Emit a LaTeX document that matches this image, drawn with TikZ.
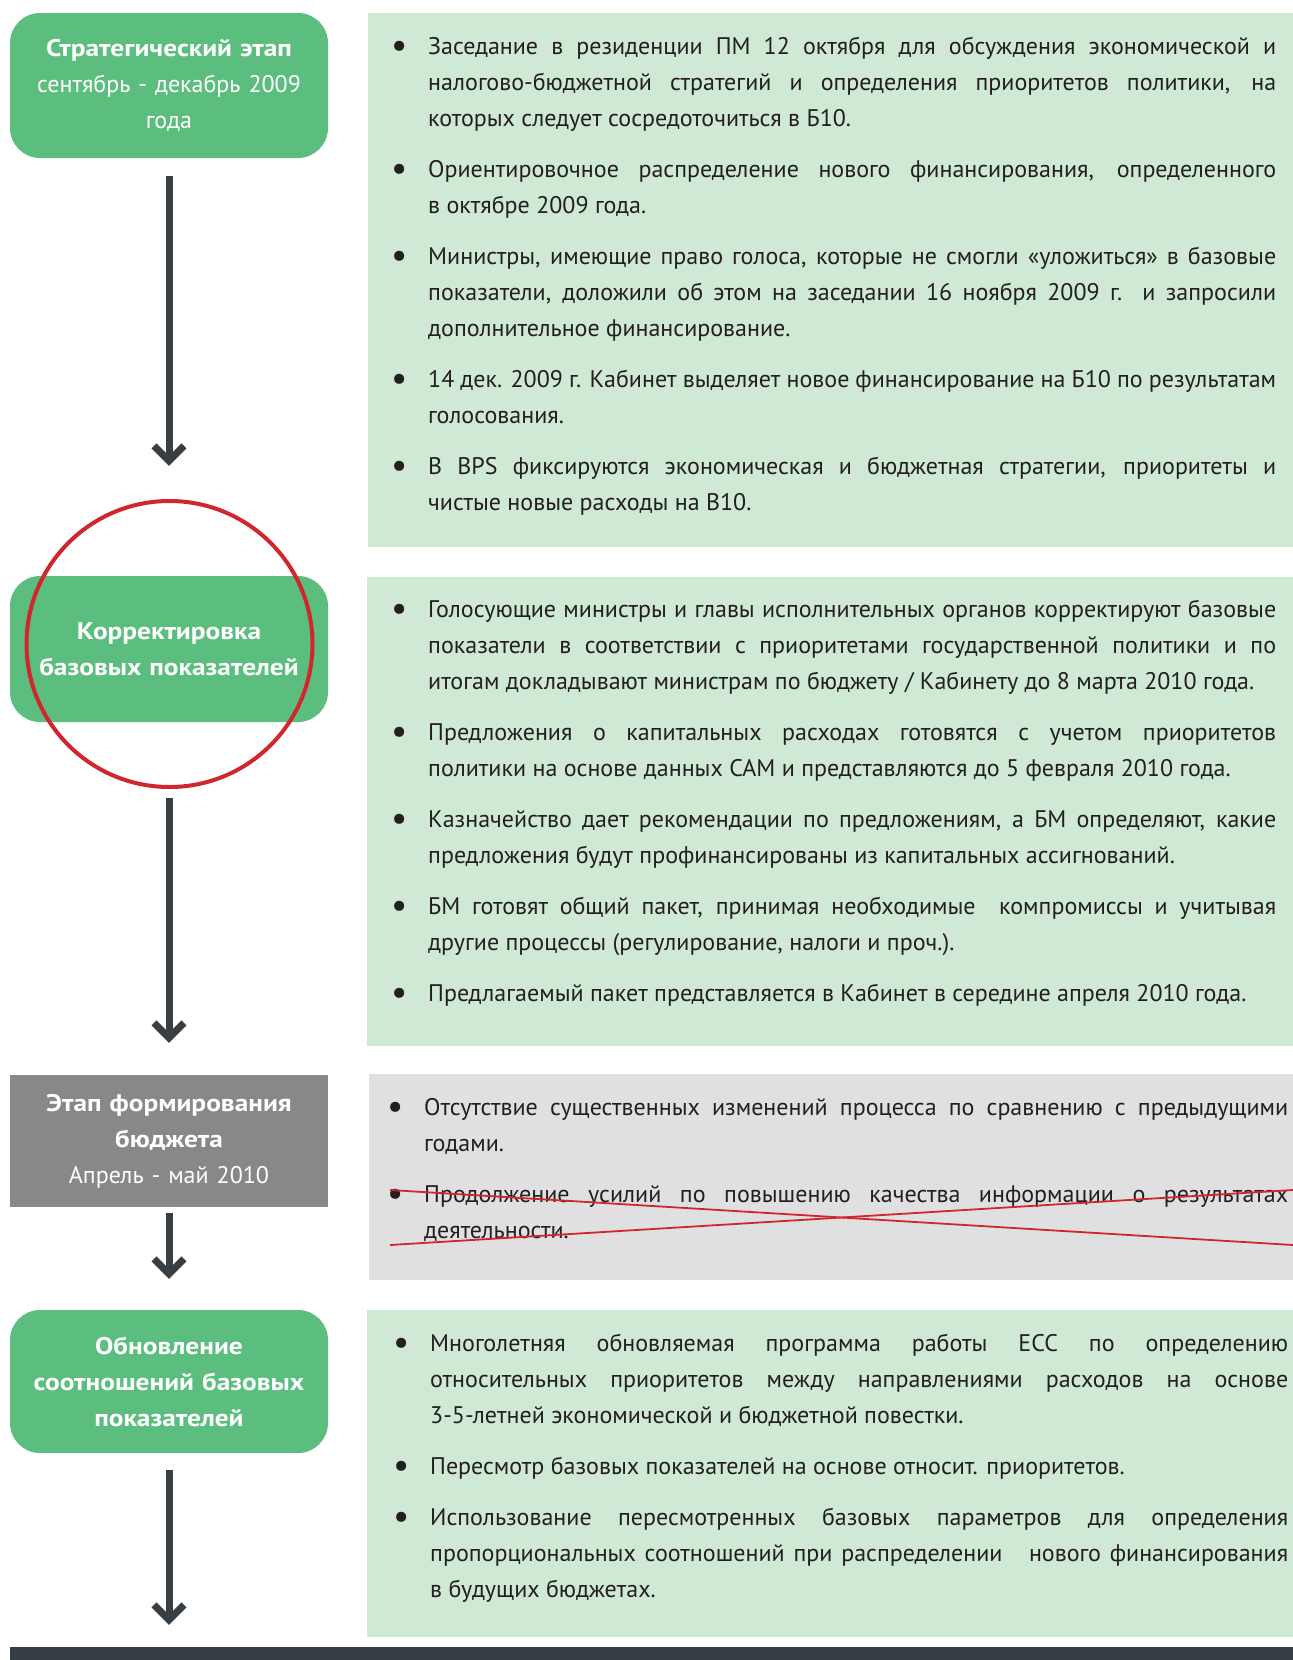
\documentclass[tikz,border=0pt]{standalone}
\usepackage{fontspec}
\setmainfont[BoldFeatures={FakeStretch=1.14}]{PT Sans}
\usetikzlibrary{arrows.meta, positioning}
\definecolor{gruen}{HTML}{5BBE7F}
\definecolor{hellgruen}{HTML}{D0E9D5}
\definecolor{grau}{HTML}{87888A}
\definecolor{hellgrau}{HTML}{E0E0E0}
\definecolor{dunkel}{HTML}{373F45}
\definecolor{rot}{HTML}{D1262D}
\definecolor{schrift}{HTML}{231F20}
\newcommand{\punkt}{\hangindent=37pt\hangafter=1%
  \hbox to 37pt{\raisebox{-3pt}{\scalebox{1.5}{\textbullet}}\hfil}\ignorespaces}
\newcommand{\absatz}{\par\vspace{15pt}\noindent}

\begin{document}
\begin{tikzpicture}[
    x=1pt, y=-1pt,
    every node/.style={inner sep=0pt},
    etappe/.style={fill=gruen, rounded corners=30pt, minimum width=318pt,
      text width=316pt, align=center, text=white,
      font=\fontsize{24}{36}\selectfont},
    liste/.style={anchor=base west, text=schrift, align=justify,
      font=\fontsize{24}{36}\selectfont},
    pfeil/.style={line width=7pt, dunkel, -{Straight Barb[length=15pt, width=30pt]}},
  ]
  \useasboundingbox (0,0) rectangle (1293,1660);

  % Felder rechts
  \fill[hellgruen] (368,13) rectangle (1293,547);
  \fill[hellgruen] (367,577) rectangle (1293,1046);
  \fill[hellgrau] (369,1074) rectangle (1293,1280);
  \fill[hellgruen] (367,1310) rectangle (1293,1637);

  % Etappen links
  \node[etappe, minimum height=145pt] (strat) at (169,85.5)
    {\textbf{Стратегический этап}\\сентябрь - декабрь 2009\\года};
  \node[etappe, minimum height=146pt] (korr) at (169,649)
    {\textbf{Корректировка}\\\textbf{базовых показателей}};
  \node[etappe, fill=grau, sharp corners, minimum height=132pt] (formir) at (169,1141)
    {\textbf{Этап формирования}\\\textbf{бюджета}\\Апрель - май 2010};
  \node[etappe, minimum height=143pt] (obnov) at (169,1381.5)
    {\textbf{Обновление}\\\textbf{соотношений базовых}\\\textbf{показателей}};
  \node[fill=dunkel, minimum width=1283pt, minimum height=13pt] (leiste) at (651.5,1653.5) {};

  % Pfeile
  \draw[pfeil, shorten <=18pt, shorten >=110pt] (strat) -- (korr);
  \draw[pfeil, shorten <=76pt, shorten >=32pt] (korr) -- (formir);
  \draw[pfeil, shorten <=6pt, shorten >=31pt] (formir) -- (obnov);
  \draw[pfeil, shorten <=17pt, shorten >=22pt] (obnov) -- (obnov |- leiste.north);

  % Texte
  \node[liste, text width=885pt] (text1) at (391,54) {%
    \punkt Заседание в резиденции ПМ 12 октября для обсуждения экономической и\linebreak
    налогово-бюджетной стратегий и определения приоритетов политики, на\linebreak
    которых следует сосредоточиться в Б10.
    \absatz\punkt Ориентировочное распределение нового финансирования, определенного\linebreak
    в октябре 2009 года.
    \absatz\punkt Министры, имеющие право голоса, которые не смогли «уложиться» в базовые\linebreak
    показатели, доложили об этом на заседании 16 ноября 2009 г. и запросили\linebreak
    дополнительное финансирование.
    \absatz\punkt 14 дек. 2009 г. Кабинет выделяет новое финансирование на Б10 по результатам\linebreak
    голосования.
    \absatz\punkt В BPS фиксируются экономическая и бюджетная стратегии, приоритеты и\linebreak
    чистые новые расходы на В10.\par};

  \node[liste, text width=885pt] (text2) at (391,617) {%
    \punkt Голосующие министры и главы исполнительных органов корректируют базовые\linebreak
    показатели в соответствии с приоритетами государственной политики и по\linebreak
    итогам докладывают министрам по бюджету / Кабинету до 8 марта 2010 года.
    \absatz\punkt Предложения о капитальных расходах готовятся с учетом приоритетов\linebreak
    политики на основе данных САМ и представляются до 5 февраля 2010 года.
    \absatz\punkt Казначейство дает рекомендации по предложениям, а БМ определяют, какие\linebreak
    предложения будут профинансированы из капитальных ассигнований.
    \absatz\punkt БМ готовят общий пакет, принимая необходимые\ \ компромиссы и учитывая\linebreak
    другие процессы (регулирование, налоги и проч.).
    \absatz\punkt Предлагаемый пакет представляется в Кабинет в середине апреля 2010 года.\par};

  \node[liste, text width=901pt] (text3) at (387,1115) {%
    \punkt Отсутствие существенных изменений процесса по сравнению с предыдущими\linebreak
    годами.
    \absatz\punkt Продолжение усилий по повышению качества информации о результатах\linebreak
    деятельности.\par};

  \node[liste, text width=895pt] (text4) at (393,1351) {%
    \punkt Многолетняя обновляемая программа работы ЕСС по определению\linebreak
    относительных приоритетов между направлениями расходов на основе\linebreak
    3-5-летней экономической и бюджетной повестки.
    \absatz\punkt Пересмотр базовых показателей на основе относит. приоритетов.
    \absatz\punkt Использование пересмотренных базовых параметров для определения\linebreak
    пропорциональных соотношений при распределении\ \ \ нового финансирования\linebreak
    в будущих бюджетах.\par};

  % Markierungen
  \draw[rot, line width=4pt] (169.5,644) circle (143);
  \draw[rot, line width=1.8pt] (390,1190) -- (1293,1245);
  \draw[rot, line width=1.8pt] (390,1245) -- (1293,1190);
\end{tikzpicture}
\end{document}
